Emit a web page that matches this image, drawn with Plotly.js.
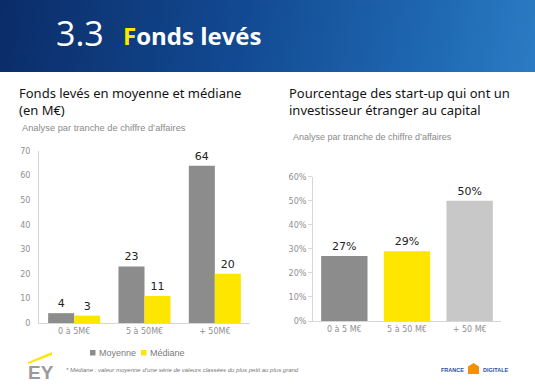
<!DOCTYPE html>
<html>
<head>
<meta charset="utf-8">
<script src="https://cdn.plot.ly/plotly-3.0.1.min.js"></script>
<style>
  html, body { margin: 0; padding: 0; background: #ffffff; }
  #wrap { position: relative; width: 535px; height: 390px; overflow: hidden; }
  #banner { position: absolute; left: 0; top: 0; width: 535px; height: 72px;
    background: linear-gradient(100deg, #0b2c68 0%, #124a92 45%, #1f68b2 80%, #2b7cc4 100%); }
  #chart { position: absolute; left: 0; top: 0; width: 535px; height: 390px; }
</style>
</head>
<body>
<div id="wrap">
  <div id="banner"></div>
  <div id="chart"></div>
</div>
<script>
// ---- Data ----
var leftCategories = ["0 à 5M€", "5 à 50M€", "+ 50M€"];
var seriesNames = ["Moyenne", "Médiane"];
var moyenneValues = [4, 23, 64];
var medianeValues = [3, 11, 20];
var leftTickValues = [0, 10, 20, 30, 40, 50, 60, 70];

var rightCategories = ["0 à 5 M€", "5 à 50 M€", "+ 50 M€"];
var foreignInvestorShare = [0.27, 0.29, 0.50];
var rightTickValues = [0, 0.1, 0.2, 0.3, 0.4, 0.5, 0.6];

// ---- Styles ----
var GRAY = "#8c8c8c", YELLOW = "#ffe600", LIGHT = "#c8c8c8";
var TICKFONT = {family: "DejaVu Sans, Verdana, sans-serif", size: 8, color: "#8f8f8f"};
var LABELFONT = {family: "DejaVu Sans, Verdana, sans-serif", size: 11, color: "#222222"};

var traces = [
  {type: "bar", name: seriesNames[0], x: leftCategories, y: moyenneValues,
   marker: {color: GRAY}, text: moyenneValues.map(String), textposition: "outside",
   textfont: LABELFONT, cliponaxis: false, xaxis: "x", yaxis: "y", hoverinfo: "skip", showlegend: false},
  {type: "bar", name: seriesNames[1], x: leftCategories, y: medianeValues,
   marker: {color: YELLOW}, text: medianeValues.map(String), textposition: "outside",
   textfont: LABELFONT, cliponaxis: false, xaxis: "x", yaxis: "y", hoverinfo: "skip", showlegend: false},
  {type: "bar", name: "Part", x: rightCategories, y: foreignInvestorShare,
   marker: {color: [GRAY, YELLOW, LIGHT]},
   text: foreignInvestorShare.map(function(v){ return Math.round(v*100) + "%"; }),
   textposition: "outside", textfont: LABELFONT, cliponaxis: false,
   xaxis: "x2", yaxis: "y2", showlegend: false, hoverinfo: "skip"}
];

function py(px) { return 1 - px / 390; }
function pxx(px) { return px / 535; }

var shapes = [
  // EY yellow beam
  {type: "path", xref: "paper", yref: "paper",
   path: "M " + pxx(28) + "," + py(362) + " L " + pxx(52) + "," + py(352) + " L " + pxx(52) + "," + py(355) + " L " + pxx(28) + "," + py(364) + " Z",
   fillcolor: YELLOW, line: {width: 0}},
  // France Digitale icon
  {type: "path", xref: "paper", yref: "paper",
   path: "M " + pxx(473.5) + "," + py(363) + " L " + pxx(479) + "," + py(366.5) + " L " + pxx(479) + "," + py(374) + " L " + pxx(468) + "," + py(374) + " L " + pxx(468) + "," + py(366.5) + " Z",
   fillcolor: "#f39200", line: {width: 0}}
];

var annotations = [
  {text: "3.3", x: pxx(54), y: py(33), xref: "paper", yref: "paper", xanchor: "left", yanchor: "middle",
   showarrow: false, font: {family: "Open Sans, sans-serif", size: 34, color: "#ffffff"}},
  {text: "<b><span style='color:#ffe600'>F</span>onds levés</b>", x: pxx(121), y: py(35),
   xref: "paper", yref: "paper", xanchor: "left", yanchor: "middle", showarrow: false,
   font: {family: "Open Sans, sans-serif", size: 24, color: "#ffffff"}},
  {text: "Fonds levés en moyenne et médiane<br>(en M€)", x: pxx(17), y: py(82), xref: "paper", yref: "paper",
   xanchor: "left", yanchor: "top", align: "left", showarrow: false,
   font: {family: "Noto Sans, sans-serif", size: 13, color: "#141414"}},
  {text: "Analyse par tranche de chiffre d’affaires", x: pxx(20), y: py(128), xref: "paper", yref: "paper",
   xanchor: "left", yanchor: "middle", showarrow: false,
   font: {family: "Liberation Sans, Arial, sans-serif", size: 9.3, color: "#8a8a8a"}},
  {text: "Pourcentage des start-up qui ont un<br>investisseur étranger au capital", x: pxx(287), y: py(82),
   xref: "paper", yref: "paper", xanchor: "left", yanchor: "top", align: "left", showarrow: false,
   font: {family: "Noto Sans, sans-serif", size: 13, color: "#141414"}},
  {text: "Analyse par tranche de chiffre d’affaires", x: pxx(291), y: py(137), xref: "paper", yref: "paper",
   xanchor: "left", yanchor: "middle", showarrow: false,
   font: {family: "Liberation Sans, Arial, sans-serif", size: 9, color: "#8a8a8a"}},
  {text: "<b>EY</b>", x: pxx(26), y: py(372), xref: "paper", yref: "paper", xanchor: "left", yanchor: "middle",
   showarrow: false, font: {family: "Liberation Sans, Arial, sans-serif", size: 19, color: "#9a9a9a"}},
  {text: "<i>* Médiane : valeur moyenne d’une série de valeurs classées du plus petit au plus grand</i>",
   x: pxx(64), y: py(370), xref: "paper", yref: "paper", xanchor: "left", yanchor: "middle",
   showarrow: false, font: {family: "Liberation Sans, Arial, sans-serif", size: 6, color: "#777777"}},
  {text: "<b>FRANCE</b>", x: pxx(466), y: py(370), xref: "paper", yref: "paper", xanchor: "right", yanchor: "middle",
   showarrow: false, font: {family: "Liberation Sans, Arial, sans-serif", size: 5.5, color: "#2a4f9e"}},
  {text: "<b>DIGITALE</b>", x: pxx(481), y: py(370), xref: "paper", yref: "paper", xanchor: "left", yanchor: "middle",
   showarrow: false, font: {family: "Liberation Sans, Arial, sans-serif", size: 5.5, color: "#2a4f9e"}}
];

// Custom legend (small squares + labels) built from series names
var legendColors = [GRAY, YELLOW];
var legendX = [90, 141];
seriesNames.forEach(function(name, i) {
  shapes.push({type: "rect", xref: "paper", yref: "paper",
    x0: pxx(legendX[i]), x1: pxx(legendX[i] + 5.5), y0: py(355.5), y1: py(350),
    fillcolor: legendColors[i], line: {width: 0}});
  annotations.push({text: name, x: pxx(legendX[i] + 7), y: py(352.5), xref: "paper", yref: "paper",
    xanchor: "left", yanchor: "middle", showarrow: false,
    font: {family: "Liberation Sans, Arial, sans-serif", size: 9, color: "#7a7a7a"}});
});

var layout = {
  width: 535, height: 390,
  margin: {l: 0, r: 0, t: 0, b: 0},
  paper_bgcolor: "rgba(0,0,0,0)", plot_bgcolor: "rgba(0,0,0,0)",
  barmode: "group", bargap: 0.26, bargroupgap: 0,
  showlegend: false,
  xaxis: {domain: [pxx(39), pxx(250)], anchor: "y", showline: true, linecolor: "#d6d6d6",
    linewidth: 1, ticks: "", tickfont: TICKFONT, showgrid: false, zeroline: false, fixedrange: true},
  yaxis: {domain: [py(323), py(151)], anchor: "x", range: [0, 70], tickvals: leftTickValues,
    showline: true, linecolor: "#d6d6d6", linewidth: 1, ticks: "", tickfont: TICKFONT,
    showgrid: false, zeroline: false, ticklabelstandoff: 6, fixedrange: true},
  xaxis2: {domain: [pxx(313), pxx(501)], anchor: "y2", showline: true, linecolor: "#d6d6d6",
    linewidth: 1, ticks: "", tickfont: TICKFONT, showgrid: false, zeroline: false, fixedrange: true},
  yaxis2: {domain: [py(321), py(176.7)], anchor: "x2", range: [0, 0.6], tickvals: rightTickValues,
    tickformat: ".0%", showline: true, linecolor: "#d6d6d6", linewidth: 1, ticks: "outside",
    ticklen: 4, tickcolor: "#d6d6d6", tickfont: TICKFONT, showgrid: false, zeroline: false,
    fixedrange: true},
  shapes: shapes,
  annotations: annotations
};

Plotly.newPlot("chart", traces, layout, {displayModeBar: false, staticPlot: true});
</script>
</body>
</html>
